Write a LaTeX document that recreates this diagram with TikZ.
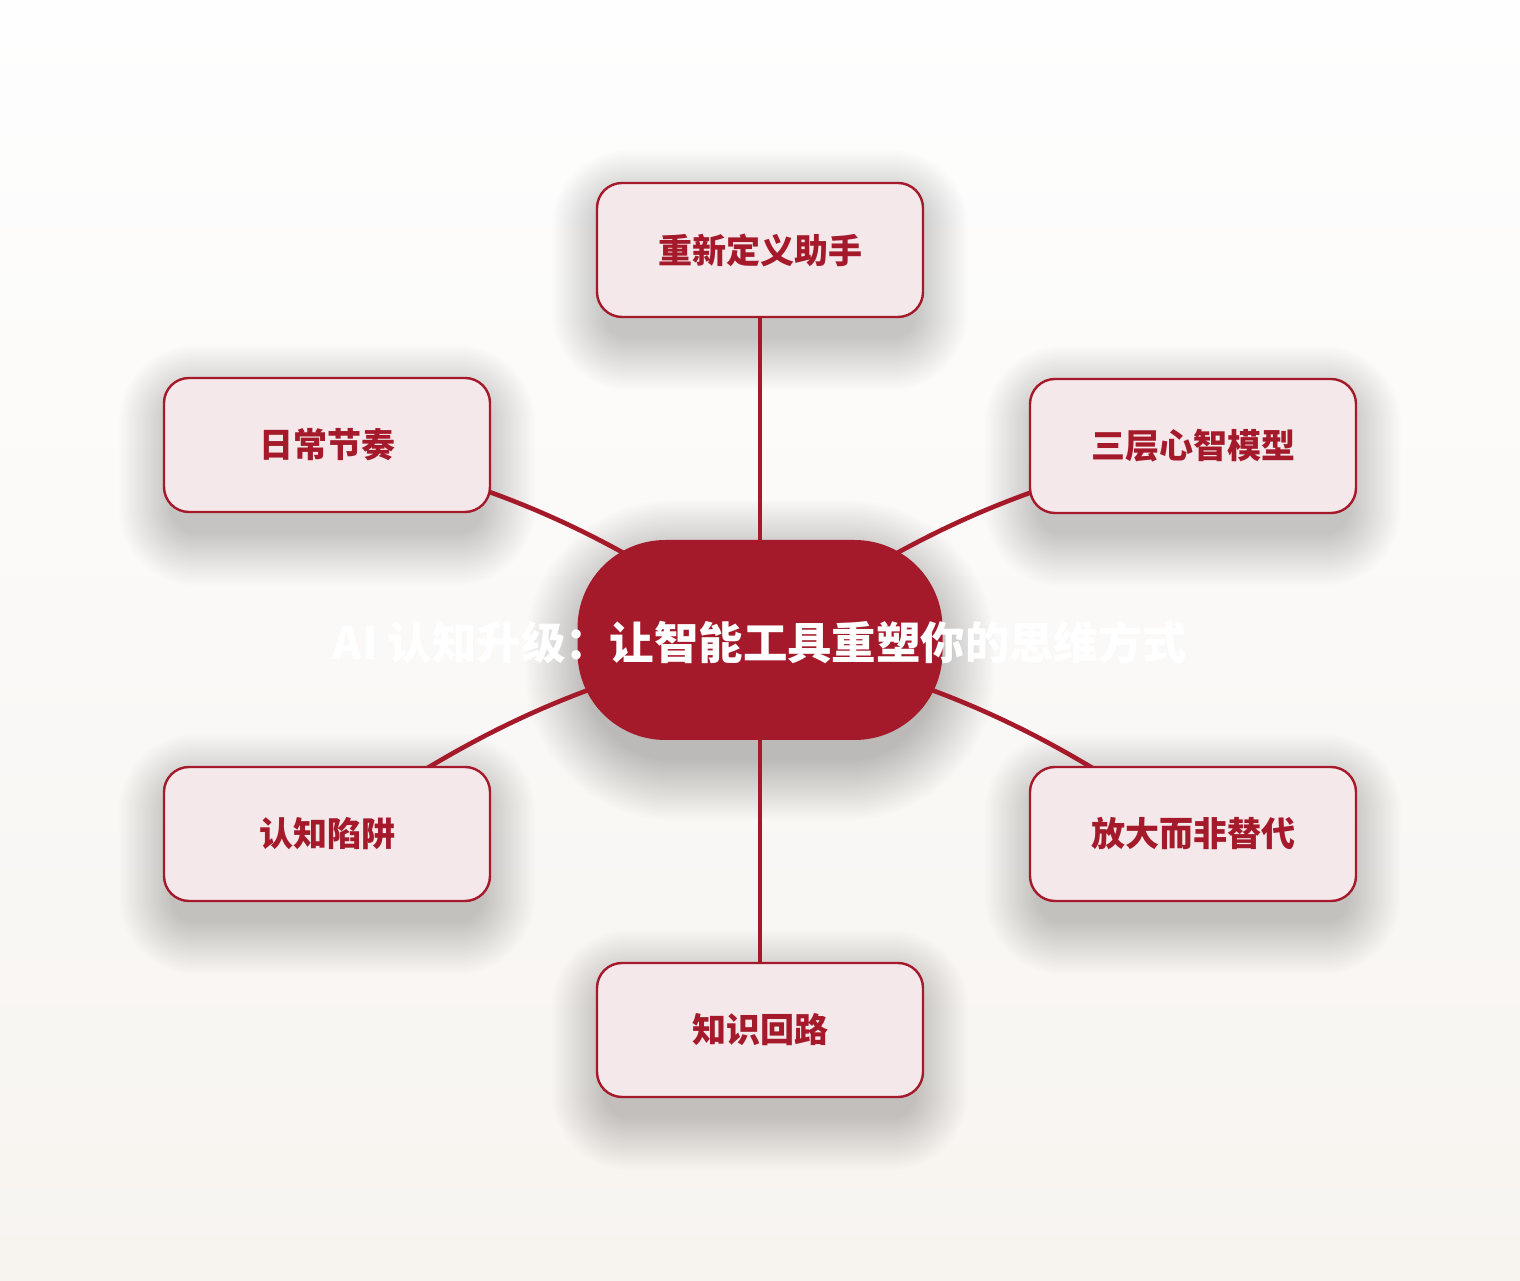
\documentclass[tikz,border=0pt]{standalone}
\usepackage{fontspec}
\newfontfamily\cjk{Noto Sans CJK SC}
\usetikzlibrary{backgrounds}
\definecolor{crimson}{HTML}{A51A2A}
\definecolor{pinkfill}{HTML}{F4E8EA}
\definecolor{bgtop}{HTML}{FEFEFE}
\definecolor{bgbot}{HTML}{F7F4F0}
\pgfdeclarelayer{shadowlayer}
\pgfdeclarelayer{edges}
\pgfsetlayers{background,shadowlayer,edges,main}
\tikzset{
  leaf/.style={draw=crimson, line width=1.2pt, fill=pinkfill, rounded corners=12.5pt,
    minimum width=163pt, minimum height=67pt, inner sep=0pt,
    font=\cjk\bfseries\fontsize{17pt}{20pt}\selectfont, text=crimson},
  hub/.style={fill=crimson, rounded corners=44pt, minimum width=182.5pt, minimum height=100pt,
    inner sep=0pt},
  titletext/.style={font=\cjk\bfseries\fontsize{22.2pt}{24pt}\selectfont, text=white, inner sep=0pt},
  link/.style={draw=crimson, line width=2.3pt, line cap=round}
}
% soft shadow behind a named node: #1 node, #2 base corner radius (pt), #3 steps
\newcommand\softshade[3]{%
  \foreach \i in {0,...,#3}{%
    \pgfmathsetmacro\rr{#2+\i}%
    \fill[black, fill opacity=0.0065, rounded corners=\rr pt]
      ([xshift=-\i pt+4pt, yshift=-\i pt-10pt]#1.south west) rectangle
      ([xshift=\i pt-4pt, yshift=\i pt-10pt]#1.north east);
  }%
}
\begin{document}
\begin{tikzpicture}[x=0.5pt,y=0.5pt]
\useasboundingbox (0,0) rectangle (1520,1280);
\begin{scope}[on background layer]
  \shade[top color=bgtop, bottom color=bgbot] (0,0) rectangle (1520,1280);
\end{scope}
\node[hub] (c) at (760,640) {};
\node[leaf] (top) at (760,1030) {重新定义助手};
\node[leaf] (ul) at (327,835) {日常节奏};
\node[leaf] (ur) at (1193,834) {三层心智模型};
\node[leaf] (ll) at (327,446) {认知陷阱};
\node[leaf] (lr) at (1193,446) {放大而非替代};
\node[leaf] (bot) at (760,250) {知识回路};
\node[titletext] (title) at (760,638) {AI 认知升级：让智能工具重塑你的思维方式};
\begin{pgfonlayer}{shadowlayer}
  \softshade{c}{44}{30}
  \softshade{top}{12.5}{26}
  \softshade{ul}{12.5}{26}
  \softshade{ur}{12.5}{26}
  \softshade{ll}{12.5}{26}
  \softshade{lr}{12.5}{26}
  \softshade{bot}{12.5}{26}
\end{pgfonlayer}
\begin{pgfonlayer}{edges}
  \draw[link] (top.center) -- (c.center);
  \draw[link] (bot.center) -- (c.center);
  \draw[link] (ul.center) to[bend left=11] (c.center);
  \draw[link] (ll.center) to[bend left=11] (c.center);
  \draw[link] (ur.center) to[bend right=11] (c.center);
  \draw[link] (lr.center) to[bend right=11] (c.center);
\end{pgfonlayer}
\end{tikzpicture}
\end{document}
